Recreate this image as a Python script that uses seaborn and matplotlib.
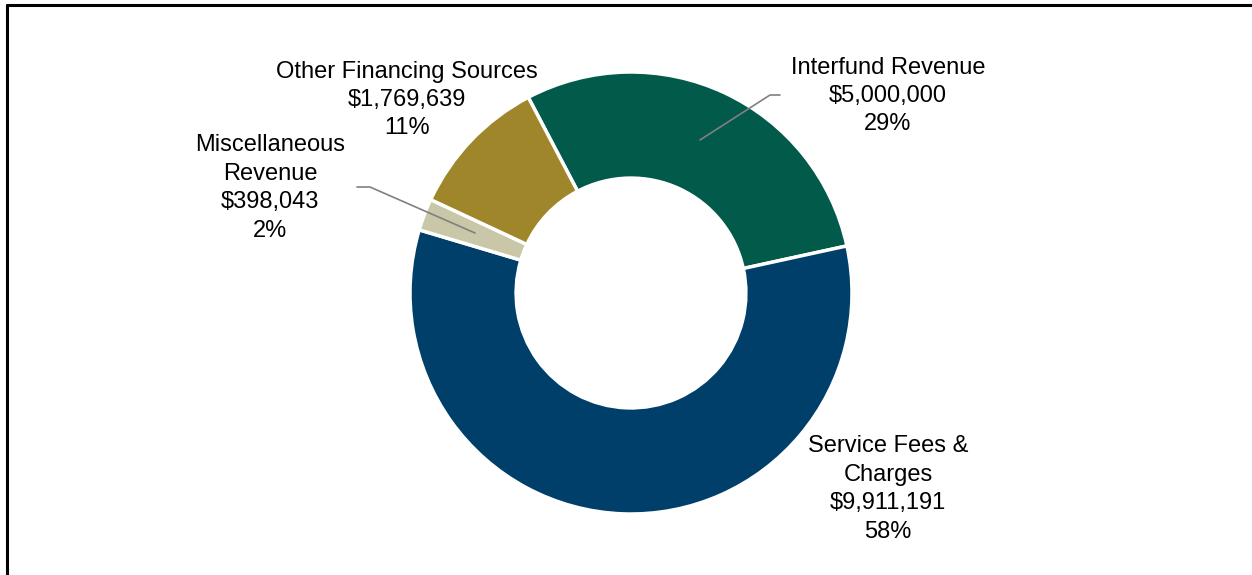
import matplotlib
matplotlib.use("Agg")
import matplotlib.pyplot as plt
import seaborn as sns

categories = ['Interfund Revenue', 'Service Fees & Charges', 'Miscellaneous Revenue', 'Other Financing Sources']
label_names = ['Interfund Revenue', 'Service Fees &\nCharges', 'Miscellaneous\nRevenue', 'Other Financing Sources']
amounts = [5000000, 9911191, 398043, 1769639]
percents = [29, 58, 2, 11]

sns.set_theme(style="white")
plt.rcParams['font.family'] = ['Liberation Sans', 'DejaVu Sans']
colors = sns.color_palette(['#025A4B', '#003F69', '#C9C7A7', '#A0862A'])

W, H = 1252, 575
cx, cy, r = 631, 293, 221  # centre and radius in pixels

fig = plt.figure(figsize=(W / 100, H / 100), dpi=100)
ax = fig.add_axes([0, 0, 1, 1])

ax.pie(amounts, colors=colors, startangle=117.7, counterclock=False, radius=1,
       wedgeprops=dict(width=0.48, edgecolor='white', linewidth=2.5))
ax.set_aspect('auto')
ax.set_xlim(-cx / r, (W - cx) / r)
ax.set_ylim(-(H - cy) / r, cy / r)
ax.axis('off')


def px(x, y):
    return (x - cx) / r, (cy - y) / r


# label positions (pixel centres)
label_pos = [(888, 96), (888, 489), (270, 188), (407, 100)]
for name, amt, pct, (lx, ly) in zip(label_names, amounts, percents, label_pos):
    x, y = px(lx, ly)
    ax.text(x, y, f'{name}\n${amt:,}\n{pct}%', ha='center', va='center',
            fontsize=17, color='black', linespacing=1.38)

# leader lines
for pts in [[(700, 140), (770, 95), (780, 95)], [(475, 233), (370, 187), (357, 187)]]:
    xs, ys = zip(*[px(a, b) for a, b in pts])
    ax.plot(xs, ys, color='#808080', linewidth=1.2)

# frame on top and left edges
fig.add_artist(plt.Line2D([7 / W, 7 / W], [0, 1 - 5 / H], color='black', linewidth=2.2,
                          transform=fig.transFigure))
fig.add_artist(plt.Line2D([7 / W, 1], [1 - 5 / H, 1 - 5 / H], color='black', linewidth=2.2,
                          transform=fig.transFigure))

fig.savefig('out.png', dpi=100)
